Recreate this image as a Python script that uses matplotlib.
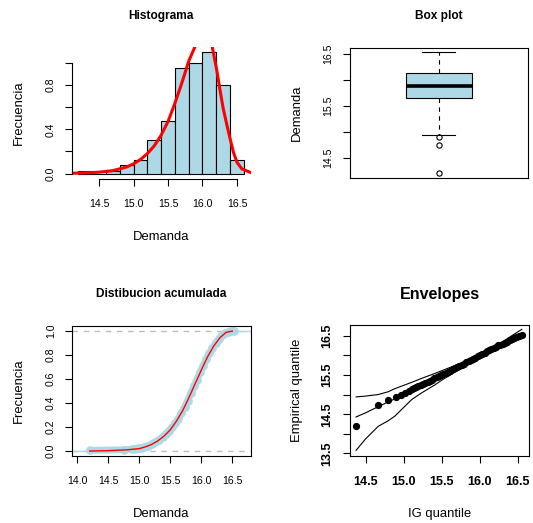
import numpy as np
import matplotlib
matplotlib.use("Agg")
import matplotlib.pyplot as plt

plt.rcParams['font.family'] = ['Liberation Sans', 'DejaVu Sans']

# Histogram (density scale) and fitted density curve
hist_edges = [14.2, 14.4, 14.6, 14.8, 15.0, 15.2, 15.4, 15.6, 15.8, 16.0, 16.2, 16.4, 16.6]
hist_density = [0.025, 0.0, 0.025, 0.075, 0.125, 0.3, 0.475, 0.95, 1.0, 1.1, 0.8, 0.125]
dens_x = [14.10, 14.30, 14.50, 14.70, 14.90, 15.00, 15.10, 15.20, 15.30, 15.40, 15.50,
          15.60, 15.70, 15.80, 15.90, 15.95, 16.02, 16.08, 16.14, 16.21, 16.25, 16.30,
          16.35, 16.40, 16.45, 16.50, 16.57, 16.69]
dens_y = [0.003, 0.007, 0.013, 0.027, 0.06, 0.088, 0.127, 0.18, 0.25, 0.347, 0.47,
          0.635, 0.818, 1.015, 1.16, 1.24, 1.30, 1.26, 1.15, 0.924, 0.77, 0.59,
          0.45, 0.316, 0.19, 0.103, 0.043, 0.012]

# Box plot summary
box_q1 = 15.65
box_med = 15.89
box_q3 = 16.13
box_whislo = 14.95
box_whishi = 16.53
box_fliers = [14.22, 14.75, 14.90]

# Empirical CDF and fitted CDF
ecdf_x = [14.20, 14.75, 14.88, 14.93, 14.98, 15.03, 15.08, 15.14, 15.20, 15.26, 15.32,
          15.38, 15.43, 15.48, 15.53, 15.58, 15.63, 15.68, 15.73, 15.78, 15.83, 15.88,
          15.93, 15.98, 16.03, 16.08, 16.13, 16.18, 16.23, 16.28, 16.33, 16.38, 16.43,
          16.48, 16.53]
ecdf_f = [0.005, 0.01, 0.015, 0.02, 0.022, 0.025, 0.035, 0.045, 0.06, 0.075, 0.095,
          0.12, 0.145, 0.17, 0.2, 0.23, 0.27, 0.315, 0.365, 0.42, 0.48, 0.54,
          0.595, 0.655, 0.71, 0.765, 0.815, 0.86, 0.9, 0.935, 0.965, 0.985, 0.993,
          0.998, 1.0]
cdf_x = [14.2, 14.5, 14.8, 15.0, 15.1, 15.2, 15.3, 15.4, 15.5, 15.6, 15.7, 15.8, 15.9,
         16.0, 16.1, 16.2, 16.3, 16.4, 16.5]
cdf_f = [0.0, 0.003, 0.01, 0.02, 0.035, 0.055, 0.085, 0.125, 0.177, 0.25, 0.337, 0.445,
         0.56, 0.675, 0.785, 0.875, 0.945, 0.99, 1.0]

# QQ plot with simulated envelopes
qq_theo = [14.37, 14.66, 14.79, 14.89, 14.96, 15.01, 15.06, 15.10, 15.13, 15.16, 15.19,
           15.22, 15.25, 15.28, 15.31, 15.34, 15.37, 15.40, 15.43, 15.46, 15.49, 15.52,
           15.55, 15.58, 15.61, 15.64, 15.67, 15.70, 15.73, 15.76, 15.79, 15.82, 15.85,
           15.88, 15.91, 15.94, 15.97, 16.00, 16.03, 16.06, 16.09, 16.12, 16.15, 16.18,
           16.21, 16.24, 16.27, 16.30, 16.33, 16.36, 16.39, 16.42, 16.45, 16.48, 16.51,
           16.55]
qq_emp = [14.20, 14.73, 14.87, 14.94, 14.99, 15.04, 15.10, 15.15, 15.17, 15.19, 15.22,
          15.25, 15.28, 15.30, 15.32, 15.35, 15.38, 15.41, 15.44, 15.46, 15.49, 15.52,
          15.55, 15.58, 15.61, 15.64, 15.67, 15.70, 15.73, 15.76, 15.79, 15.82, 15.85,
          15.88, 15.91, 15.94, 15.98, 16.01, 16.04, 16.07, 16.10, 16.13, 16.16, 16.19,
          16.22, 16.25, 16.27, 16.29, 16.32, 16.35, 16.38, 16.41, 16.43, 16.46, 16.49,
          16.52]
env_x = [14.37, 14.49, 14.66, 14.79, 14.88, 14.99, 15.10, 15.23, 15.41, 15.50, 15.75,
         16.00, 16.25, 16.55]
env_upper = [14.94, 14.96, 15.00, 15.07, 15.15, 15.23, 15.31, 15.41, 15.54, 15.61, 15.80,
             16.06, 16.29, 16.66]
env_mid = [14.43, 14.53, 14.69, 14.81, 14.89, 14.99, 15.09, 15.21, 15.38, 15.47, 15.72,
           15.98, 16.24, 16.52]
env_lower = [13.58, 13.86, 14.19, 14.33, 14.45, 14.66, 14.87, 15.04, 15.25, 15.37, 15.66,
             15.96, 16.21, 16.42]

W, H = 533, 523
LIGHTBLUE = '#ADD8E6'
fig = plt.figure(figsize=(W / 100, H / 100), dpi=100)


def panel(left, top, right, bottom):
    ax = fig.add_axes([left / W, 1 - bottom / H, (right - left) / W, (bottom - top) / H])
    ax.px = (right - left, bottom - top, top)
    for s in ax.spines.values():
        s.set_linewidth(0.8)
    ax.tick_params(direction='out', length=5, width=0.8, labelsize=7.6)
    ax.tick_params(axis='x', pad=9.6)
    ax.tick_params(axis='y', pad=6.5)
    return ax


def labels(ax, title, xlabel, ylabel, title_size=8.6, title_base=19.3):
    w, h, top = ax.px
    ax.set_title(title, fontsize=title_size, fontweight='bold',
                 pad=(top - title_base) * 0.72)
    if xlabel:
        ax.set_xlabel(xlabel, fontsize=9.4)
        ax.xaxis.label.set_va('baseline')
        ax.xaxis.set_label_coords(0.5, -61.5 / h)
    ax.set_ylabel(ylabel, fontsize=9.4)
    ax.yaxis.label.set_va('baseline')
    ax.yaxis.set_label_coords(-50 / w, 0.5)


def ylabs(ticks, shown):
    return [f'{t:.1f}' if t in shown else '' for t in ticks]


# --- Histograma ---
ax1 = panel(71.7, 47, 250.5, 178.5)
ax1.bar(hist_edges[:-1], hist_density, width=np.diff(hist_edges), align='edge',
        color=LIGHTBLUE, edgecolor='black', linewidth=0.8)
ax1.plot(dens_x, dens_y, color='red', lw=2.2)
ax1.set_xlim(14.104, 16.696)
ax1.set_ylim(-0.044, 1.144)
ax1.spines['top'].set_visible(False)
ax1.spines['right'].set_visible(False)
ax1.spines['bottom'].set_bounds(14.5, 16.5)
ax1.spines['left'].set_bounds(0, 1.0)
ax1.set_xticks([14.5, 15.0, 15.5, 16.0, 16.5], ['14.5', '15.0', '15.5', '16.0', '16.5'])
yt = [0.0, 0.2, 0.4, 0.6, 0.8, 1.0]
ax1.set_yticks(yt, ylabs(yt, [0.0, 0.4, 0.8]), rotation=90, va='center')
labels(ax1, 'Histograma', 'Demanda', 'Frecuencia')

# --- Box plot ---
ax2 = panel(349.5, 48, 528, 178)
stats = [dict(med=box_med, q1=box_q1, q3=box_q3, whislo=box_whislo,
              whishi=box_whishi, fliers=box_fliers)]
ax2.bxp(stats, positions=[1], widths=0.367, patch_artist=True,
        boxprops=dict(facecolor=LIGHTBLUE, edgecolor='black', linewidth=0.8),
        medianprops=dict(color='black', linewidth=2.6),
        whiskerprops=dict(color='black', linewidth=0.8, linestyle=(0, (4, 4))),
        capprops=dict(color='black', linewidth=0.8),
        flierprops=dict(marker='o', markerfacecolor='none', markeredgecolor='black',
                        markersize=3.8, markeredgewidth=0.8))
ax2.set_xlim(0.5, 1.5)
ax2.set_ylim(14.115, 16.615)
ax2.set_xticks([])
yt = [14.5, 15.0, 15.5, 16.0, 16.5]
ax2.set_yticks(yt, ylabs(yt, [14.5, 15.5, 16.5]), rotation=90, va='center')
labels(ax2, 'Box plot', None, 'Demanda', title_base=19.3)

# --- Distibucion acumulada ---
ax3 = panel(71.7, 325.5, 250.7, 455.7)
ax3.set_xlim(13.91, 16.797)
ax3.set_ylim(-0.039, 1.047)
ax3.axhline(0, color='#BEBEBE', lw=1, ls=(0, (4, 4)))
ax3.axhline(1, color='#BEBEBE', lw=1, ls=(0, (4, 4)))
ax3.plot([13.91, ecdf_x[0]], [0, 0], color=LIGHTBLUE, lw=1)
ax3.plot([ecdf_x[-1], 16.797], [1, 1], color=LIGHTBLUE, lw=1)
ax3.plot(ecdf_x, ecdf_f, color=LIGHTBLUE, lw=5, marker='o', markersize=5.2,
         solid_capstyle='round')
ax3.plot(cdf_x, cdf_f, color='red', lw=1)
ax3.set_xticks([14.0, 14.5, 15.0, 15.5, 16.0, 16.5],
               ['14.0', '14.5', '15.0', '15.5', '16.0', '16.5'])
yt = [0.0, 0.2, 0.4, 0.6, 0.8, 1.0]
ax3.set_yticks(yt, ylabs(yt, yt), rotation=90, va='center')
labels(ax3, 'Distibucion acumulada', 'Demanda', 'Frecuencia', title_base=297.3)

# --- Envelopes ---
ax4 = panel(349.7, 324.7, 529.3, 455.5)
ax4.plot(env_x, env_upper, color='black', lw=0.8)
ax4.plot(env_x, env_mid, color='black', lw=0.8)
ax4.plot(env_x, env_lower, color='black', lw=0.8)
ax4.plot(qq_theo, qq_emp, 'o', color='black', markersize=4.2)
ax4.set_xlim(14.286, 16.649)
ax4.set_ylim(13.448, 16.779)
ax4.set_xticks([14.5, 15.0, 15.5, 16.0, 16.5],
               ['14.5', '15.0', '15.5', '16.0', '16.5'], fontweight='bold', fontsize=9)
yt = [13.5, 14.0, 14.5, 15.0, 15.5, 16.0, 16.5]
ax4.set_yticks(yt, ylabs(yt, [13.5, 14.5, 15.5, 16.5]), rotation=90, va='center',
               fontweight='bold', fontsize=9)
labels(ax4, 'Envelopes', 'IG quantile', 'Empirical quantile', title_size=11.5,
       title_base=299.5)

fig.savefig('out.png', dpi=100)
